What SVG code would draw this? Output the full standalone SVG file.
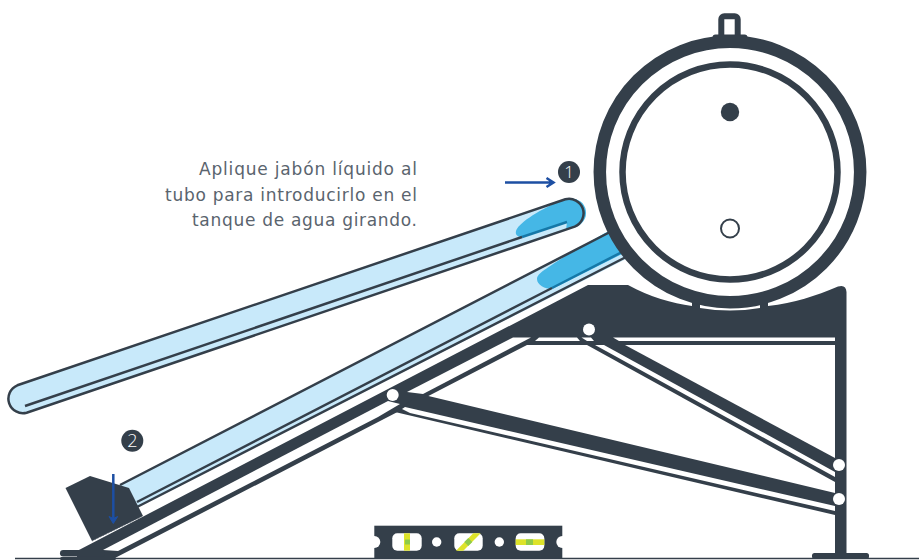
<svg xmlns="http://www.w3.org/2000/svg" width="919" height="560" viewBox="0 0 919 560">
<style>
.d{fill:#343f4a}
.w{fill:#fff}
.e{fill:none;stroke:#343f4a;stroke-width:2.5}
.lb{fill:#c8e9fa}
.sp{fill:#45b7e6}
.sl{fill:none;stroke:#1578a8;stroke-width:2.5}
.ar{fill:none;stroke:#1d4fa3;stroke-width:2.5}
.t{font-family:"DejaVu Sans","Liberation Sans",sans-serif;font-weight:400;font-size:17px;fill:#5a646e;text-anchor:end}
.n{font-family:"Open Sans","Liberation Sans",sans-serif;font-weight:300;fill:#fff;text-anchor:middle}
.y{fill:#dde32a}
.g{fill:#8fcb4a}
</style>
<rect width="919" height="560" fill="#fff"/>
<g id="ground"><path d="M15 558.500H919" stroke="#343f4a" stroke-width="1.500" fill="none"/></g>
<g id="tube-lower">
<polygon class="lb" points="120,485 610,232 632,256 137,507"/>
<path class="sp" d="M537 279C537 273 548 268 565 256L605 233L625 224L635 250L620 255L552 289C545 289 537 285 537 279Z"/>
<path class="sl" d="M552 288L622 252"/>
<path class="e" d="M120 485L612 231M137 502L552 288M137 507L628 256"/>
</g>
<g id="stand">
<path class="d" d="M77 551L588 285L628 285C650 297 672 303 692 306L692 298L700 298L700 308Q730 313 760 308L760 298L768 298L768 306C795 303 815 296 838 286.500Q846 284 846.500 292L846.500 553L835 553L835 345L527 345L115 558L77 558Z"/>
<polygon class="d" points="587,345 835,482 835,458 625,345"/>
<polygon class="d" points="395,412 835,515 835,493 420,394"/>
<polygon class="w" points="103,550 388,401 400,404 378,417 118,551"/>
<polygon class="w" points="407,392 513,337.500 531,337.500 423,394"/>
<polygon class="w" points="535,341 539,337.500 577,337.500 580,341"/>
<polygon class="w" points="581.500,337.500 591,337.500 594,341 587,341"/>
<polygon class="w" points="613,337.500 835,337.500 835,341 619,341"/>
<polygon class="w" points="595,345 604,345 835,472 835,477"/>
<polygon class="w" points="402,409 405,407 835,506 835,511 410,413"/>
<circle class="w" cx="392.700" cy="395" r="6"/>
<circle class="w" cx="589" cy="329.500" r="6"/>
<circle class="w" cx="839" cy="465" r="6"/>
<circle class="w" cx="839" cy="499" r="6"/>
<rect class="d" x="812" y="553" width="57" height="6" rx="2.500"/>
<rect class="d" x="60" y="550" width="45" height="6.500" rx="3.200"/>
<rect class="d" x="60" y="557" width="56" height="3" rx="1.500"/>
</g>
<g id="bracket">
<polygon class="d" points="65.500,488 90,476 129,488 143,516 92,541"/>
<path d="M92 541L143 516" stroke="#56606b" stroke-width="0.700" stroke-dasharray="1.500 1.500" fill="none"/>
</g>
<g id="tube-upper">
<path class="lb" d="M17.350 385.300L565.350 199.300A14.500 14.500 0 0 1 574.650 226.700L26.650 412.700A14.500 14.500 0 0 1 17.350 385.300Z"/>
<path class="sp" d="M516 231C518 224 535 212 562 200L570 198.500A14.500 14.500 0 0 1 575 227L566 230L567 222L522 237C518 237 515 235 516 231Z"/>
<path class="sl" d="M522 237L567 222"/>
<path class="e" d="M17.350 385.300L565.350 199.300A14.500 14.500 0 0 1 574.650 226.700L26.650 412.700A14.500 14.500 0 0 1 17.350 385.300Z"/>
<path class="e" d="M25 406L522 237"/>
</g>
<g id="tank">
<rect x="721.300" y="16.300" width="16.400" height="24" rx="3" fill="#fff" stroke="#343f4a" stroke-width="6"/>
<rect class="d" x="712.500" y="34.500" width="35" height="7" rx="3"/>
<circle cx="730" cy="172" r="130.200" fill="#fff" stroke="#343f4a" stroke-width="12.500"/>
<circle cx="730" cy="172" r="107.500" fill="none" stroke="#343f4a" stroke-width="6.500"/>
<circle class="d" cx="730" cy="112" r="9.200"/>
<circle cx="730" cy="228.500" r="9" fill="#fff" stroke="#343f4a" stroke-width="2"/>
</g>
<g id="level">
<rect class="d" x="374.300" y="525.700" width="188" height="33"/>
<circle class="w" cx="374.300" cy="542" r="6"/>
<circle class="w" cx="562.300" cy="542" r="6"/>
<circle class="w" cx="436.700" cy="542" r="4.700"/>
<circle class="w" cx="499.300" cy="542" r="4.700"/>
<rect class="w" x="392.300" y="533.300" width="29.400" height="17.400" rx="5"/>
<rect class="y" x="404" y="533.300" width="6" height="17.400"/>
<rect class="g" x="405" y="539.500" width="5" height="5"/>
<rect class="w" x="454.300" y="533.300" width="28.400" height="17.400" rx="5"/>
<polygon class="y" points="456,550.700 463.300,550.700 480.700,533.300 473.300,533.300"/>
<polygon class="g" points="468.300,538 472.300,542 468.300,546 464.300,542"/>
<rect class="w" x="515.700" y="533.300" width="28.600" height="17.400" rx="5"/>
<rect class="y" x="515.700" y="539.300" width="28.600" height="5.700"/>
<rect class="g" x="526" y="539.300" width="7" height="5.700"/>
</g>
<g id="label">
<text class="t" x="417" y="175" textLength="218">Aplique jabón líquido al</text>
<text class="t" x="417" y="200.500" textLength="252">tubo para introducirlo en el</text>
<text class="t" x="417" y="226" textLength="225">tanque de agua girando.</text>
</g>
<g id="badge-1">
<circle class="d" cx="569" cy="172" r="11"/>
<text class="n" x="569" y="178" font-size="17">1</text>
</g>
<g id="badge-2">
<circle class="d" cx="132.300" cy="440.700" r="11"/>
<text class="n" x="132.300" y="447" font-size="18">2</text>
</g>
<g id="connectors">
<path class="ar" d="M505 182.500H553M546.500 178L553.500 182.500L546.500 187"/>
<path class="ar" d="M113.300 474V521"/>
<polygon points="109,516.500 113.300,523.500 117.700,516.500 113.300,518.500" fill="#1d4fa3" stroke="#1d4fa3" stroke-width="1"/>
</g>
</svg>
